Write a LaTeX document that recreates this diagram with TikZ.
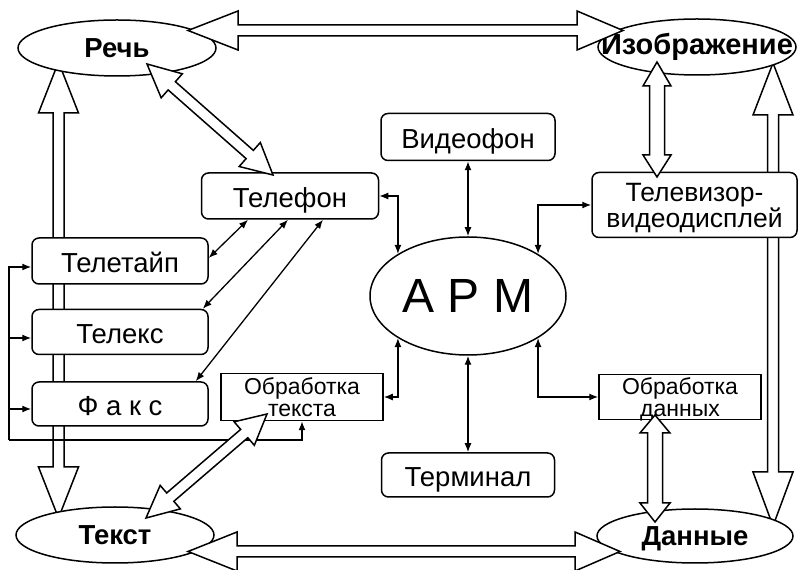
\documentclass[tikz,border=0pt]{standalone}
\usepackage{fontspec}
\setmainfont{Liberation Sans}
\usetikzlibrary{arrows.meta,calc,shapes.geometric}

% Hollow double-headed block arrow between two points:
% #1 from, #2 to, #3 shaft half-width, #4 head half-width,
% #5 head length at the start, #6 head length at the end
\newcommand\blockarrow[6]{%
  \path let \p1=#1, \p2=#2 in \pgfextra{%
    \pgfmathsetmacro\baAng{atan2(\y2-\y1,\x2-\x1)}%
    \pgfmathsetmacro\baLen{veclen(\x2-\x1,\y2-\y1)}%
    \xdef\baAng{\baAng}\xdef\baLen{\baLen}%
    \xdef\baX{\x1}\xdef\baY{\y1}};
  \begin{scope}[shift={(\baX,\baY)},rotate=\baAng]
    \draw[blockarr] (0,0) -- (#5,#4) -- (#5,#3) -- (\baLen-#6,#3) -- (\baLen-#6,#4)
      -- (\baLen,0) -- (\baLen-#6,-#4) -- (\baLen-#6,-#3) -- (#5,-#3) -- (#5,-#4) -- cycle;
  \end{scope}}

\tikzset{
  box/.style={draw, line width=1.5pt, rounded corners=7pt, fill=white, inner sep=0pt,
    font=\fontsize{26.5}{21}\selectfont, align=center},
  onebox/.style={box, font=\fontsize{27.5}{27.5}\selectfont, text height=23pt, text depth=0pt},
  sqbox/.style={draw, line width=1.5pt, fill=white, inner sep=0pt,
    font=\fontsize{23}{22}\selectfont, align=center, text depth=0pt},
  oval/.style={draw, ellipse, line width=1.5pt, fill=white, inner sep=0pt},
  olabel/.style={font=\fontsize{27.5}{27.5}\selectfont\bfseries, inner sep=0pt, text depth=0pt},
  link/.style={line width=1.3pt, {Latex[length=9pt,width=7pt]}-{Latex[length=9pt,width=7pt]}},
  feed/.style={line width=1.3pt, -{Latex[length=9pt,width=7pt]}},
  blockarr/.style={draw, line width=1.5pt, fill=white, line join=miter},
}

\begin{document}
\begin{tikzpicture}[x=1pt,y=1pt]
\useasboundingbox (0,0) rectangle (798,570);

% long vertical block arrows, passing behind the boxes
\coordinate (lvTop) at (58.5,508);
\coordinate (lvBot) at (58.5,52);
\coordinate (rvTop) at (773,507);
\coordinate (rvBot) at (773,44);
\blockarrow{(lvTop)}{(lvBot)}{5.5}{20}{51}{51}
\blockarrow{(rvTop)}{(rvBot)}{5.5}{20}{52}{54}

% media ellipses
\node[oval, minimum width=198pt, minimum height=56pt, label={[olabel]center:Речь}] (rech) at (117,522) {};
\node[oval, minimum width=198pt, minimum height=56pt,
  label={[olabel, font=\fontsize{29}{29}\selectfont\bfseries, yshift=3pt]center:Изображение}] (izob) at (697,523) {};
\node[oval, minimum width=198pt, minimum height=56pt, label={[olabel]center:Текст}] (tekst) at (115,35) {};
\node[oval, minimum width=196pt, minimum height=54pt, label={[olabel]center:Данные}] (dann) at (695,34) {};

% workstation
\node[oval, minimum width=196pt, minimum height=118pt, font=\fontsize{48}{48}\selectfont] (arm) at (468,274) {А Р М};

% devices
\node[onebox, minimum width=174pt, minimum height=47pt] (videofon) at (468,433) {Видеофон};
\node[onebox, minimum width=177pt, minimum height=46pt] (telefon) at (290,374) {Телефон};
\node[box, text depth=0pt, minimum width=205pt, minimum height=65pt] (telev) at (694.5,365) {Телевизор-\\видеодисплей};
\node[onebox, minimum width=176pt, minimum height=46pt] (teletaip) at (120,309) {Телетайп};
\node[onebox, minimum width=176pt, minimum height=45pt] (teleks) at (120,238) {Телекс};
\node[onebox, minimum width=176pt, minimum height=44pt] (faks) at (120,166) {Ф а к с};
\node[onebox, minimum width=173pt, minimum height=44pt] (terminal) at (468,95) {Терминал};
\node[sqbox, minimum width=162pt, minimum height=47pt] (obrt) at (302,173) {Обработка\\текста};
\node[sqbox, minimum width=162pt, minimum height=45pt] (obrd) at (680,173) {Обработка\\данных};

% feedback bus from text processing to the text devices
\coordinate (busL) at (9,130);
\draw[feed] (busL) |- ([yshift=-6pt]teletaip.west);
\draw[feed] (busL) |- ([yshift=-6pt]teleks.west);
\draw[feed] (busL) |- ([yshift=-5pt]faks.west);
\draw[feed] (busL) -| (obrt.south);

% links of the workstation
\draw[link] (videofon) -- (arm);
\draw[link] (terminal) -- (arm);
\draw[link] (telefon.east) -| (arm.149);
\draw[link] (arm.31) |- (telev.west);
\draw[link] (arm.211) |- (obrt.east);
\draw[link] (arm.329) |- (obrd.west);

% telephone to the text devices
\draw[link] ([xshift=-42pt]telefon.south) -- ([yshift=3pt]teletaip.east);
\draw[link] ([xshift=-2pt]telefon.south) -- ([xshift=-6pt]teleks.north east);
\draw[link] ([xshift=33pt]telefon.south) -- ([xshift=-13pt]faks.north east);

% block arrows between media
\coordinate (topL) at (188,539.5);
\coordinate (topR) at (623,539.5);
\coordinate (botL) at (188,18.5);
\coordinate (botR) at (620,18.5);
\blockarrow{(topL)}{(topR)}{5.5}{19.5}{50}{46}
\blockarrow{(botL)}{(botR)}{5.5}{19.5}{49}{45}

\coordinate (rechD) at (147,506);
\coordinate (telefonU) at (273,395);
\blockarrow{(rechD)}{(telefonU)}{5.5}{16}{33}{31}

\coordinate (tekstU) at (146,52);
\coordinate (obrtD) at (267,156);
\blockarrow{(tekstU)}{(obrtD)}{5.5}{15.5}{32}{30}

\coordinate (izobD) at (657,508);
\coordinate (televU) at (657,393);
\blockarrow{(izobD)}{(televU)}{7.5}{14}{24}{22}

\coordinate (obrdD) at (655,155);
\coordinate (dannU) at (655,48);
\blockarrow{(obrdD)}{(dannU)}{7.5}{15}{18}{19}
\end{tikzpicture}
\end{document}
